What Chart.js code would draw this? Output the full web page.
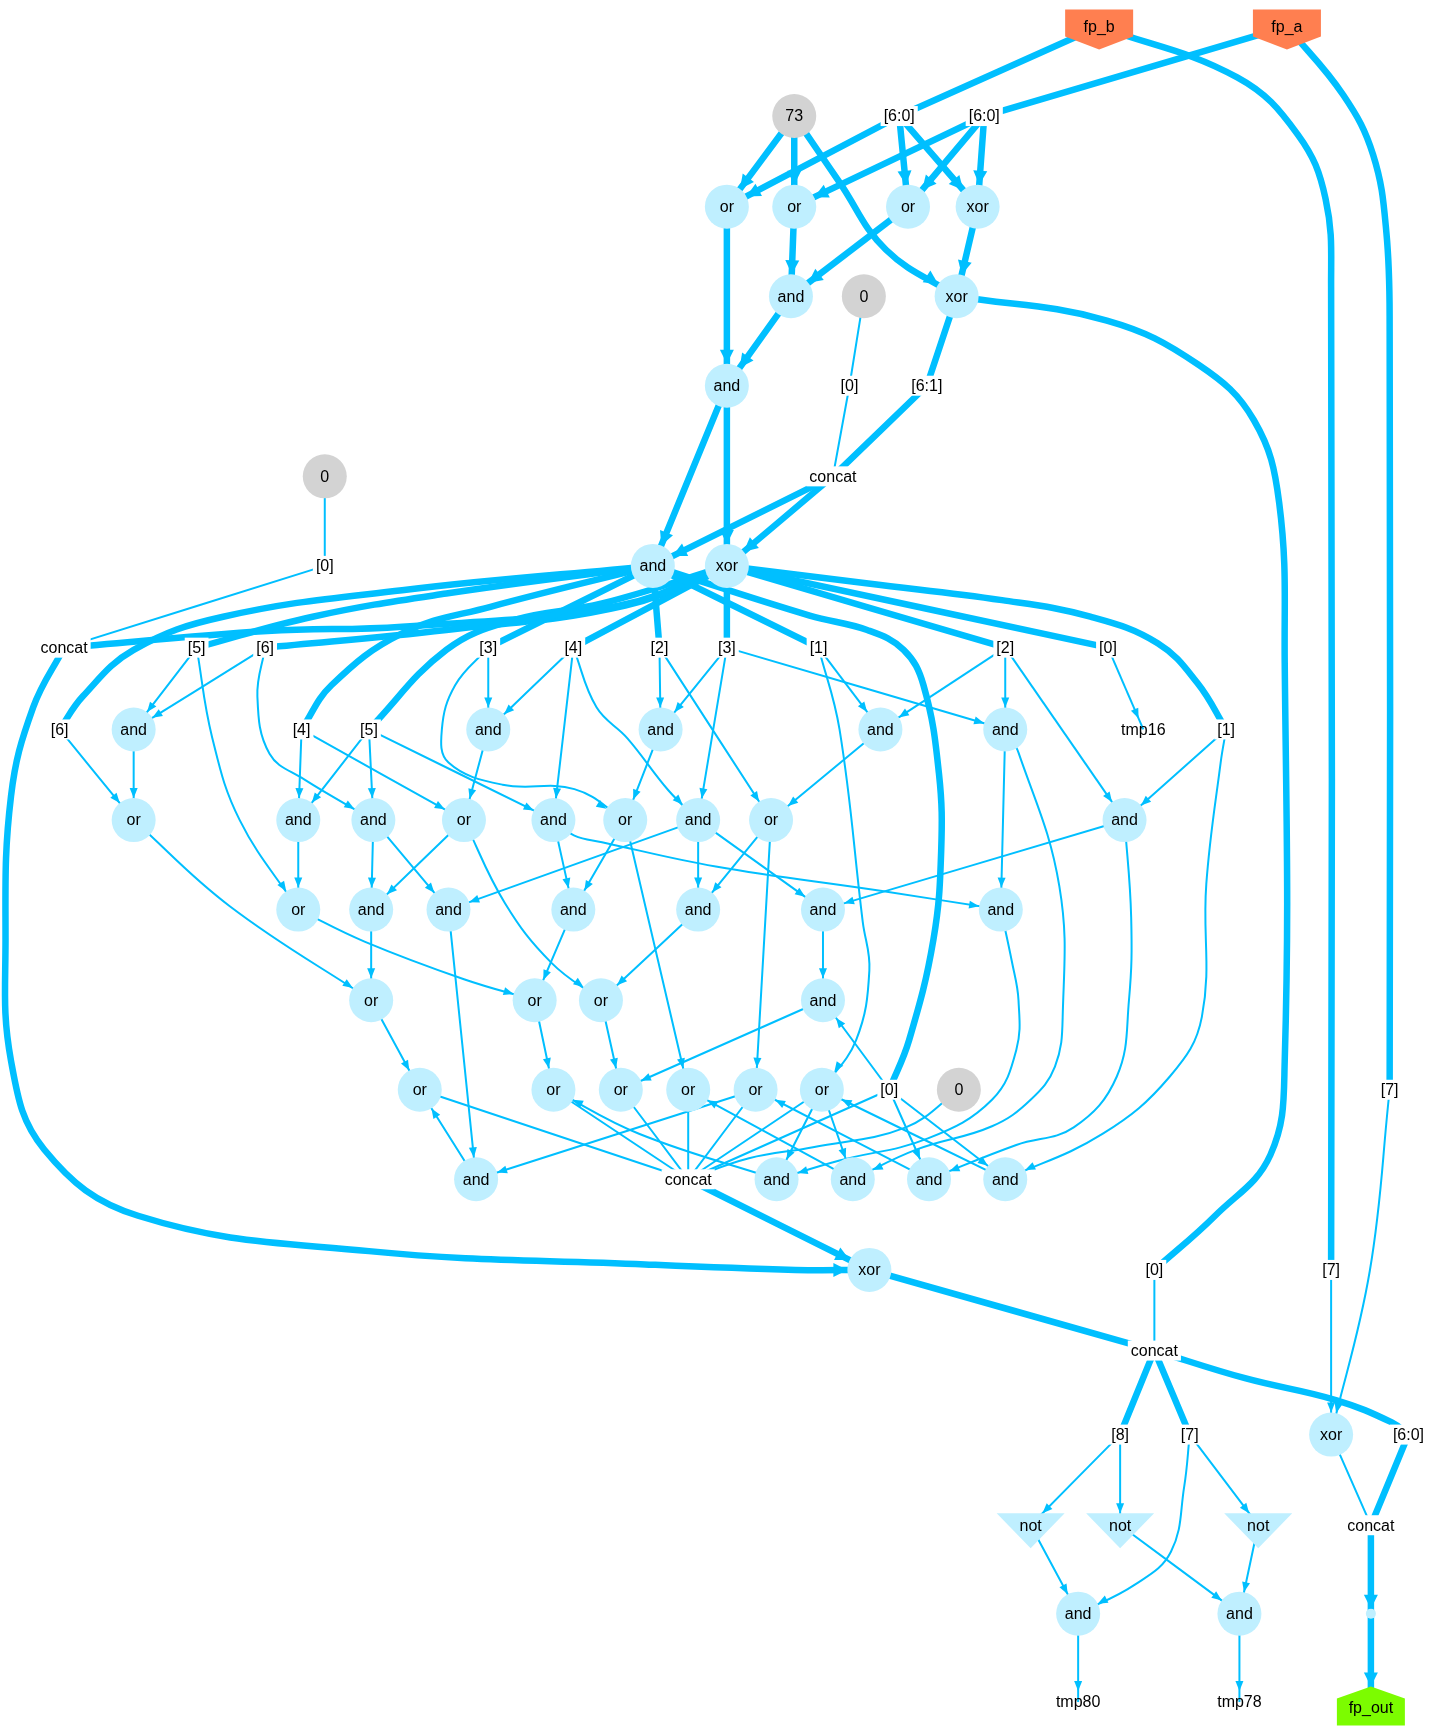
<!DOCTYPE html>
<html>
<head>
<meta charset="utf-8">
<title>netlist</title>
<script src="https://cdn.jsdelivr.net/npm/chart.js@4.4.0/dist/chart.umd.min.js"></script>
<style>
  html, body { margin: 0; padding: 0; background: #ffffff; }
  #wrap { width: 1446px; height: 1733px; position: relative; }
</style>
</head>
<body>
<div id="wrap"><canvas id="graph"></canvas></div>
<script>
// id, text, kind, x, y  (graph layout units)
const nodes = [
  ["fp_b", "fp_b", "in", 995, 24],
  ["fp_a", "fp_a", "in", 1165, 24],
  ["c73", "73", "const", 719, 105],
  ["sb", "[6:0]", "lbl", 814, 105],
  ["sa", "[6:0]", "lbl", 891, 105],
  ["or1", "or", "cell", 658, 187],
  ["or2", "or", "cell", 719, 187],
  ["or3", "or", "cell", 822, 187],
  ["xor1", "xor", "cell", 885, 187],
  ["and1", "and", "cell", 716, 268],
  ["z1", "0", "const", 782, 268],
  ["xor2", "xor", "cell", 866, 268],
  ["and2", "and", "cell", 658, 349],
  ["s0a", "[0]", "lbl", 769, 349],
  ["s61", "[6:1]", "lbl", 839, 349],
  ["z2", "0", "const", 294, 431],
  ["cat1", "concat", "lbl", 754, 431],
  ["G", "and", "cell", 591, 512],
  ["P", "xor", "cell", 658, 512],
  ["s0b", "[0]", "lbl", 294, 512],
  ["L1", "concat", "lbl", 58, 586],
  ["L2", "[5]", "lbl", 178, 586],
  ["L3", "[6]", "lbl", 240, 586],
  ["L4", "[3]", "lbl", 442, 586],
  ["L5", "[4]", "lbl", 519, 586],
  ["L6", "[2]", "lbl", 597, 586],
  ["L7", "[3]", "lbl", 658, 586],
  ["L8", "[1]", "lbl", 741, 586],
  ["L9", "[2]", "lbl", 910, 586],
  ["L10", "[0]", "lbl", 1003, 586],
  ["M1", "[6]", "lbl", 54, 660],
  ["M2", "and", "cell", 121, 660],
  ["M3", "[4]", "lbl", 273, 660],
  ["M4", "[5]", "lbl", 334, 660],
  ["M5", "and", "cell", 442, 660],
  ["M6", "and", "cell", 598, 660],
  ["M7", "and", "cell", 797, 660],
  ["M8", "and", "cell", 910, 660],
  ["M9", "tmp16", "tmp", 1035, 660],
  ["M10", "[1]", "lbl", 1110, 660],
  ["A1", "or", "cell", 121, 742],
  ["A2", "and", "cell", 270, 742],
  ["A3", "and", "cell", 338, 742],
  ["A4", "or", "cell", 420, 742],
  ["A5", "and", "cell", 501, 742],
  ["A6", "or", "cell", 566, 742],
  ["A7", "and", "cell", 632, 742],
  ["A8", "or", "cell", 698, 742],
  ["A9", "and", "cell", 1018, 742],
  ["B1", "or", "cell", 270, 823],
  ["B2", "and", "cell", 336, 823],
  ["B3", "and", "cell", 406, 823],
  ["B4", "and", "cell", 519, 823],
  ["B5", "and", "cell", 632, 823],
  ["B6", "and", "cell", 745, 823],
  ["B7", "and", "cell", 906, 823],
  ["C1", "or", "cell", 336, 905],
  ["C2", "or", "cell", 484, 905],
  ["C3", "or", "cell", 544, 905],
  ["C4", "and", "cell", 745, 905],
  ["D1", "or", "cell", 380, 986],
  ["D2", "or", "cell", 501, 986],
  ["D3", "or", "cell", 562, 986],
  ["D4", "or", "cell", 623, 986],
  ["D5", "or", "cell", 684, 986],
  ["D6", "or", "cell", 744, 986],
  ["D7", "[0]", "lbl", 805, 986],
  ["D8", "0", "const", 868, 986],
  ["E1", "and", "cell", 431, 1067],
  ["E2", "concat", "lbl", 623, 1067],
  ["E3", "and", "cell", 703, 1067],
  ["E4", "and", "cell", 772, 1067],
  ["E5", "and", "cell", 841, 1067],
  ["E6", "and", "cell", 910, 1067],
  ["xorF", "xor", "cell", 787, 1149],
  ["s0c", "[0]", "lbl", 1045, 1149],
  ["s7b", "[7]", "lbl", 1205, 1149],
  ["s7a", "[7]", "lbl", 1258, 986],
  ["cat3", "concat", "lbl", 1045, 1222],
  ["s8", "[8]", "lbl", 1014, 1298],
  ["s7c", "[7]", "lbl", 1077, 1298],
  ["xorS", "xor", "cell", 1205, 1298],
  ["s60", "[6:0]", "lbl", 1275, 1298],
  ["not1", "not", "not", 933, 1380],
  ["not2", "not", "not", 1014, 1380],
  ["not3", "not", "not", 1139, 1380],
  ["cat4", "concat", "lbl", 1241, 1380],
  ["andT1", "and", "cell", 976, 1460],
  ["andT2", "and", "cell", 1122, 1460],
  ["dot", "", "dot", 1241, 1460],
  ["tmp80", "tmp80", "tmp", 976, 1540],
  ["tmp78", "tmp78", "tmp", 1122, 1540],
  ["fp_out", "fp_out", "out", 1241, 1545]
];

const thickEdges = [
  "fp_b>sb", "fp_b>s7b", "fp_a>sa", "fp_a>s7a",
  "sb>or1", "sb>or3", "sb>xor1", "sa>or2", "sa>or3", "sa>xor1",
  "c73>or1", "c73>or2", "c73>xor2",
  "or1>and2", "or2>and1", "or3>and1", "xor1>xor2", "and1>and2",
  "xor2>s61", "xor2>s0c", "s61>cat1",
  "and2>G", "and2>P", "cat1>G", "cat1>P",
  "G>L2", "G>L4", "G>L6", "G>L8", "G>M1", "G>M3", "G>D7",
  "P>L1", "P>L3", "P>L5", "P>L7", "P>L9", "P>L10", "P>M4", "P>M10",
  "L1>xorF", "E2>xorF", "xorF>cat3", "cat3>s8", "cat3>s7c", "cat3>s60",
  "s60>cat4", "cat4>dot", "dot>fp_out"
];

const thinEdges = [
  "z1>s0a", "s0a>cat1", "z2>s0b", "s0b>L1",
  "s0c>cat3", "s7b>xorS", "s7a>xorS", "xorS>cat4",
  "s8>not1", "s8>not2", "s7c>not3", "s7c>andT1",
  "not1>andT1", "not2>andT2", "not3>andT2", "andT1>tmp80", "andT2>tmp78",
  "L10>M9",
  "L2>M2", "L2>B1", "L3>M2", "L3>A3", "L4>M5", "L4>A6", "L5>M5", "L5>A5", "L5>A7",
  "L6>M6", "L6>A8", "L7>M6", "L7>A7", "L7>M8", "L8>M7", "L8>D6", "L9>M7", "L9>M8", "L9>A9",
  "M1>A1", "M2>A1", "M3>A2", "M3>A4", "M4>A2", "M4>A3", "M4>A5",
  "M5>A4", "M6>A6", "M7>A8", "M8>B7", "M8>E4", "M10>A9", "M10>E6",
  "A1>C1", "A2>B1", "A3>B2", "A3>B3", "A4>B2", "A4>C3", "A5>B4", "A5>B7",
  "A6>B4", "A6>D4", "A7>B3", "A7>B5", "A7>B6", "A8>B5", "A8>D5", "A9>B6", "A9>E5",
  "B1>C2", "B2>C1", "B3>E1", "B4>C2", "B5>C3", "B6>C4", "B7>E3",
  "C1>D1", "C2>D2", "C3>D3", "C4>D3",
  "D1>E2", "D2>E2", "D3>E2", "D4>E2", "D5>E2", "D6>E2", "D7>E2", "D8>E2",
  "D5>E1", "D6>E3", "D6>E4", "D7>C4", "D7>E5", "D7>E6",
  "E1>D1", "E3>D2", "E4>D4", "E5>D5", "E6>D6"
];

// extra route points of curved edges (graph layout units)
const edgeBends = {
  "fp_b>s7b": [[1120, 70], [1175, 122], [1200, 180], [1205, 260]],
  "fp_a>s7a": [[1216, 86], [1243, 140], [1255, 210], [1258, 300]],
  "c73>xor2": [[760, 165], [802, 226]],
  "xor2>s0c": [[1002, 290], [1085, 330], [1135, 380], [1158, 455], [1163, 600], [1163, 960], [1150, 1045], [1100, 1100]],
  "G>D7": [[733, 557], [785, 570], [818, 588], [836, 620], [850, 700], [852, 770], [845, 850], [823, 941]],
  "P>M10": [[786, 528], [907, 543], [987, 558], [1048, 582], [1084, 618]],
  "P>L1": [[560, 548], [364, 567], [242, 571]],
  "G>M1": [[364, 534], [202, 558], [121, 588], [75, 630]],
  "G>M3": [[444, 549], [364, 573], [300, 620]],
  "P>M4": [[545, 546], [465, 561], [404, 588]],
  "G>L2": [[404, 537], [283, 558]],
  "P>L3": [[566, 548], [404, 570]],
  "L1>xorF": [[30, 640], [10, 720], [5, 850], [10, 960], [40, 1040], [125, 1100], [334, 1132], [584, 1144], [720, 1149]],
  "cat3>s60": [[1127, 1247], [1210, 1267], [1260, 1287]],
  "s7a>xorS": [[1240, 1150]],
  "s7c>andT1": [[1072, 1345], [1060, 1404], [1027, 1434]],
  "L3>A3": [[233, 630], [244, 682], [275, 705]],
  "L4>A6": [[412, 620], [400, 660], [406, 690], [455, 710], [520, 714]],
  "L5>A7": [[540, 640], [568, 668], [605, 715]],
  "L2>B1": [[192, 667], [217, 742]],
  "L8>D6": [[760, 660], [781, 834], [787, 878], [775, 941]],
  "M8>E4": [[922, 681], [959, 802], [962, 920], [955, 965], [933, 995], [898, 1019], [830, 1040]],
  "M10>E6": [[1105, 690], [1092, 800], [1088, 920], [1059, 974], [998, 1026]],
  "A9>E5": [[1024, 830], [1022, 905], [1011, 974], [972, 1020], [920, 1036]],
  "B7>E3": [[916, 870], [922, 905], [920, 950], [898, 995], [840, 1030], [760, 1050]],
  "A5>B7": [[520, 756], [545, 762], [648, 784], [797, 806]],
  "B1>C2": [[330, 852], [420, 886]],
  "A4>C3": [[457, 817], [499, 871]],
  "A1>C1": [[208, 820]],
  "D8>E2": [[820, 1020], [736, 1038], [678, 1048]],
  "E3>D2": [[579, 1026]]
};

const EDGE_COLOR = "#00bfff";
const CELL_FILL = "#bfefff";
const CONST_FILL = "#d3d3d3";
const IN_FILL = "#ff7f50";
const OUT_FILL = "#7cfc00";
const FONT = "16px 'Liberation Sans', Arial, Helvetica, sans-serif";

const byId = {};
nodes.forEach(([id, text, kind, x, y]) => { byId[id] = { id, text, kind, x, y }; });

function edgeDataset(key, width) {
  const [a, b] = key.split(">");
  const bends = (edgeBends[key] || []).map(([x, y]) => ({ x, y }));
  const pts = [byId[a], ...bends, byId[b]].map(p => ({ x: p.x, y: p.y }));
  return {
    type: "line",
    data: pts,
    borderColor: EDGE_COLOR,
    borderWidth: width,
    pointRadius: 0,
    pointHoverRadius: 0,
    tension: 0.4,
    fill: false,
    showLine: true,
    clip: false,
    order: 2
  };
}

const roundNodes = nodes.filter(n => n[2] === "cell" || n[2] === "const" || n[2] === "dot");

const nodeDataset = {
  type: "scatter",
  data: roundNodes.map(n => ({ x: n[3], y: n[4] })),
  pointRadius: roundNodes.map(n => (n[2] === "dot" ? 5 : 22)),
  pointHoverRadius: roundNodes.map(n => (n[2] === "dot" ? 5 : 22)),
  backgroundColor: roundNodes.map(n => (n[2] === "const" ? CONST_FILL : CELL_FILL)),
  borderWidth: 0,
  clip: false,
  order: 0
};

function drawArrow(ctx, chart, key, thick) {
  const [a, b] = key.split(">");
  const target = byId[b];
  if (target.kind === "lbl") return;
  const xs = chart.scales.x;
  const ys = chart.scales.y;
  const bends = edgeBends[key] || [];
  const prev = bends.length
    ? { x: bends[bends.length - 1][0], y: bends[bends.length - 1][1] }
    : byId[a];
  const tx = xs.getPixelForValue(target.x);
  const ty = ys.getPixelForValue(target.y);
  const fx = xs.getPixelForValue(prev.x);
  const fy = ys.getPixelForValue(prev.y);
  let dx = tx - fx;
  let dy = ty - fy;
  const len = Math.hypot(dx, dy) || 1;
  dx /= len;
  dy /= len;

  let dist = 22;
  if (target.kind === "dot") dist = 5;
  else if (target.kind === "not") dist = Math.min(40, 12 / Math.max(0.3, Math.abs(dy)));
  else if (target.kind === "tmp") dist = Math.min(40, 11 / Math.max(0.3, Math.abs(dy)));
  else if (target.kind === "out") dist = 21;

  const tipX = tx - dx * dist;
  const tipY = ty - dy * dist;
  const L = thick ? 14 : 10;
  const W = thick ? 7 : 4;
  const bx = tipX - dx * L;
  const by = tipY - dy * L;

  ctx.beginPath();
  ctx.moveTo(tipX, tipY);
  ctx.lineTo(bx - dy * W, by + dx * W);
  ctx.lineTo(bx + dy * W, by - dx * W);
  ctx.closePath();
  ctx.fillStyle = EDGE_COLOR;
  ctx.fill();
}

const decorPlugin = {
  id: "decor",
  afterDatasetsDraw(chart) {
    const ctx = chart.ctx;
    const xs = chart.scales.x;
    const ys = chart.scales.y;
    ctx.save();

    thickEdges.forEach(k => drawArrow(ctx, chart, k, true));
    thinEdges.forEach(k => drawArrow(ctx, chart, k, false));

    ctx.font = FONT;
    ctx.textAlign = "center";
    ctx.textBaseline = "middle";

    nodes.forEach(([id, text, kind, x, y]) => {
      const cx = xs.getPixelForValue(x);
      const cy = ys.getPixelForValue(y);

      if (kind === "in") {
        ctx.beginPath();
        ctx.moveTo(cx - 34, cy - 17);
        ctx.lineTo(cx + 34, cy - 17);
        ctx.lineTo(cx + 34, cy + 10);
        ctx.lineTo(cx, cy + 23);
        ctx.lineTo(cx - 34, cy + 10);
        ctx.closePath();
        ctx.fillStyle = IN_FILL;
        ctx.fill();
      } else if (kind === "out") {
        ctx.beginPath();
        ctx.moveTo(cx, cy - 21);
        ctx.lineTo(cx + 34, cy - 9);
        ctx.lineTo(cx + 34, cy + 18);
        ctx.lineTo(cx - 34, cy + 18);
        ctx.lineTo(cx - 34, cy - 9);
        ctx.closePath();
        ctx.fillStyle = OUT_FILL;
        ctx.fill();
      } else if (kind === "not") {
        ctx.beginPath();
        ctx.moveTo(cx - 34, cy - 12);
        ctx.lineTo(cx + 34, cy - 12);
        ctx.lineTo(cx, cy + 23);
        ctx.closePath();
        ctx.fillStyle = CELL_FILL;
        ctx.fill();
      } else if (kind === "lbl") {
        const w = ctx.measureText(text).width;
        ctx.fillStyle = "#ffffff";
        ctx.fillRect(cx - w / 2 - 3, cy - 10, w + 6, 20);
      }

      if (text) {
        ctx.fillStyle = "#000000";
        ctx.fillText(text, cx, cy + 1);
      }
    });

    ctx.restore();
  }
};

new Chart(document.getElementById("graph"), {
  data: {
    datasets: [
      nodeDataset,
      ...thickEdges.map(k => edgeDataset(k, 6.5)),
      ...thinEdges.map(k => edgeDataset(k, 2))
    ]
  },
  options: {
    responsive: true,
    maintainAspectRatio: false,
    animation: false,
    events: [],
    layout: { padding: 0, autoPadding: false },
    scales: {
      x: { type: "linear", min: 0, max: 1309, display: false },
      y: { type: "linear", min: 0, max: 1568, reverse: true, display: false }
    },
    plugins: {
      legend: { display: false },
      tooltip: { enabled: false }
    }
  },
  plugins: [decorPlugin]
});
</script>
</body>
</html>
